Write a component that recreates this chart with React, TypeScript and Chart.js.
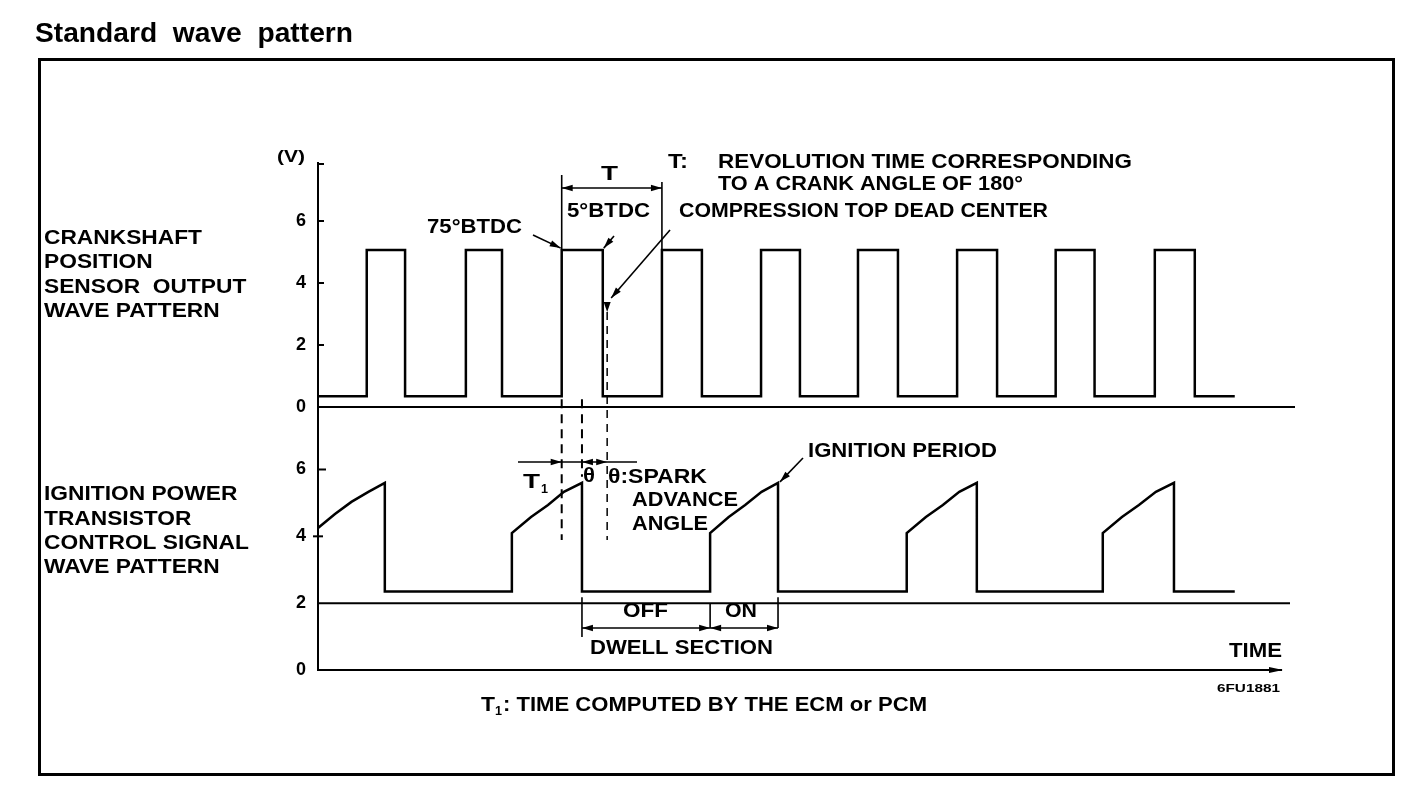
import React, { useEffect, useRef } from 'react';
import { Chart, registerables } from 'chart.js';

Chart.register(...registerables);

// ---- data (x = crank angle in degrees, y = volts) ----
const crankRiseDeg = [89, 270, 445, 628, 809, 986, 1167, 1347, 1528];
const crankFallDeg = [159, 336, 520, 701, 880, 1059, 1240, 1418, 1601];
const crankLowV = 0.35;
const crankHighV = 5.06;
const waveEndDeg = 1674;

const ignDeg = [0, 31, 61, 92, 122, 122, 354, 354, 389, 420, 449, 482, 482, 716, 716, 750, 780, 810, 840, 840, 1075, 1075, 1110, 1141, 1171, 1203, 1203, 1433, 1433, 1468, 1499, 1530, 1563, 1563, 1674];
const ignVolts = [4.25, 4.67, 5.03, 5.33, 5.6, 2.35, 2.35, 4.1, 4.58, 4.94, 5.33, 5.6, 2.35, 2.35, 4.1, 4.58, 4.94, 5.33, 5.6, 2.35, 2.35, 4.1, 4.58, 4.94, 5.33, 5.6, 2.35, 2.35, 4.1, 4.58, 4.94, 5.33, 5.6, 2.35, 2.35];

const voltTicks = [0, 2, 4, 6];
const upperMaxV = 7.87;
const lowerMaxV = 7.87;
const timeMaxDeg = 1784;
const tdcDeg = 528;
const sparkDeg = 482;
const dwellOnDeg = 716;
const dwellEndDeg = 840;

const FONT = '"Liberation Sans", Arial, Helvetica, sans-serif';
const W = 'bold';

function fitText(ctx: CanvasRenderingContext2D, s: string, x: number, y: number, w: number | null, size: number, weight = W, sx = 1) {
  ctx.save();
  ctx.font = `${weight} ${size}px ${FONT}`;
  const m = ctx.measureText(s).width;
  const k = w ? w / m : sx;
  ctx.translate(x, y);
  ctx.scale(k, 1);
  ctx.textAlign = 'left';
  ctx.textBaseline = 'alphabetic';
  ctx.fillStyle = '#000';
  ctx.fillText(s, 0, 0);
  ctx.restore();
}

function seg(ctx: CanvasRenderingContext2D, x1: number, y1: number, x2: number, y2: number, w = 2, dash: number[] = []) {
  ctx.save();
  ctx.strokeStyle = '#000';
  ctx.lineWidth = w;
  ctx.setLineDash(dash);
  ctx.beginPath();
  ctx.moveTo(x1, y1);
  ctx.lineTo(x2, y2);
  ctx.stroke();
  ctx.restore();
}

function head(ctx: CanvasRenderingContext2D, fx: number, fy: number, tx: number, ty: number, len = 11, half = 3.2) {
  const a = Math.atan2(ty - fy, tx - fx);
  ctx.save();
  ctx.fillStyle = '#000';
  ctx.beginPath();
  ctx.moveTo(tx, ty);
  ctx.lineTo(tx - len * Math.cos(a) + half * Math.sin(a), ty - len * Math.sin(a) - half * Math.cos(a));
  ctx.lineTo(tx - len * Math.cos(a) - half * Math.sin(a), ty - len * Math.sin(a) + half * Math.cos(a));
  ctx.closePath();
  ctx.fill();
  ctx.restore();
}

function arrow(ctx: CanvasRenderingContext2D, fx: number, fy: number, tx: number, ty: number, w = 1.6) {
  seg(ctx, fx, fy, tx, ty, w);
  head(ctx, fx, fy, tx, ty);
}

const diagramPlugin = {
  id: 'diagram',
  afterDraw(chart: any) {
    const ctx: CanvasRenderingContext2D = chart.ctx;
    const xs = chart.scales.x;
    const yt = chart.scales.yTop;
    const yb = chart.scales.yBot;
    const X = (d: number) => xs.getPixelForValue(d);
    const YT = (v: number) => yt.getPixelForValue(v);
    const YB = (v: number) => yb.getPixelForValue(v);
    const area = chart.chartArea;
    const ax = area.left;

    // title + frame
    fitText(ctx, 'Standard  wave  pattern', 35, 42, 318, 27, 'bold');
    ctx.save();
    ctx.strokeStyle = '#000';
    ctx.lineWidth = 3;
    ctx.strokeRect(39.5, 59.5, 1354, 715);
    ctx.restore();

    // baselines
    seg(ctx, ax, YT(0), area.right, YT(0), 2);
    seg(ctx, ax, YB(2), area.right - 5, YB(2), 2);
    seg(ctx, ax, YB(0), 1282, YB(0), 2);
    head(ctx, 1260, YB(0), 1283, YB(0), 14, 3);

    // inner tick marks
    seg(ctx, ax, YT(upperMaxV) + 1, ax + 6, YT(upperMaxV) + 1, 2);
    [2, 4, 6].forEach((v) => seg(ctx, ax, YT(v), ax + 6, YT(v), 2));
    seg(ctx, ax, YB(6), ax + 8, YB(6), 2);
    seg(ctx, ax - 5, YB(4), ax + 5, YB(4), 2);

    fitText(ctx, '(V)', 277, 162, 28, 17, 'bold');

    // left labels (one common horizontal stretch, set by the first line)
    const L = 44;
    ctx.save();
    ctx.font = `${W} 20px ${FONT}`;
    const k = 158 / ctx.measureText('CRANKSHAFT').width;
    ctx.restore();
    fitText(ctx, 'CRANKSHAFT', L, 244, null, 20, W, k);
    fitText(ctx, 'POSITION', L, 268, null, 20, W, k);
    fitText(ctx, 'SENSOR  OUTPUT', L, 293, null, 20, W, k);
    fitText(ctx, 'WAVE PATTERN', L, 317, null, 20, W, k);
    fitText(ctx, 'IGNITION POWER', L, 500, null, 20, W, k);
    fitText(ctx, 'TRANSISTOR', L, 525, null, 20, W, k);
    fitText(ctx, 'CONTROL SIGNAL', L, 549, null, 20, W, k);
    fitText(ctx, 'WAVE PATTERN', L, 573, null, 20, W, k);

    // T bracket
    const xr = X(crankRiseDeg[2]);
    const xr2 = X(crankRiseDeg[3]);
    const yHigh = YT(crankHighV);
    seg(ctx, xr, 175, xr, yHigh, 1.6);
    seg(ctx, xr2, 182, xr2, yHigh, 1.6);
    seg(ctx, xr, 188, xr2, 188, 1.6);
    head(ctx, xr + 20, 188, xr, 188);
    head(ctx, xr2 - 20, 188, xr2, 188);
    fitText(ctx, 'T', 601, 180, 17, 21);
    fitText(ctx, 'T:', 668, 168, 20, 21);
    fitText(ctx, 'REVOLUTION TIME CORRESPONDING', 718, 168, 414, 21);
    fitText(ctx, 'TO A CRANK ANGLE OF 180°', 718, 190, 305, 21);

    // BTDC labels
    fitText(ctx, '75°BTDC', 427, 233, 95, 21);
    arrow(ctx, 533, 235, xr - 1, yHigh - 2);
    const xf = X(crankFallDeg[2]);
    fitText(ctx, '5°BTDC', 567, 217, 83, 21);
    arrow(ctx, 614, 236, xf + 1, yHigh - 2);

    // compression TDC
    const xt = X(tdcDeg);
    fitText(ctx, 'COMPRESSION TOP DEAD CENTER', 679, 217, 369, 21);
    arrow(ctx, 670, 230, xt + 4, 298);
    head(ctx, xt, 300, xt, 312, 10, 3.5);
    seg(ctx, xt, 312, xt, 540, 1.5, [8, 6]);

    // dashed guide lines
    const xs1 = X(sparkDeg);
    seg(ctx, xr, YT(crankLowV) + 3, xr, 540, 2, [9, 6]);
    seg(ctx, xs1, YT(crankLowV) + 3, xs1, YB(5.6) - 6, 2, [9, 6]);

    // T1 / theta dimension
    const yd = 462;
    seg(ctx, 518, yd, 637, yd, 1.6);
    head(ctx, xr - 18, yd, xr, yd);
    head(ctx, xs1 + 18, yd, xs1, yd);
    head(ctx, xt - 16, yd, xt, yd);
    fitText(ctx, 'T', 523, 488, 17, 21);
    fitText(ctx, '1', 541, 493, 7, 13, 'bold');
    fitText(ctx, 'θ', 583, 482, 12, 21);
    fitText(ctx, 'θ:SPARK', 608, 483, 99, 21);
    fitText(ctx, 'ADVANCE', 632, 506, 106, 21);
    fitText(ctx, 'ANGLE', 632, 530, 76, 21);

    // ignition period
    fitText(ctx, 'IGNITION PERIOD', 808, 457, 189, 21);
    arrow(ctx, 803, 458, X(dwellEndDeg) + 2, YB(5.6) - 1);

    // dwell section
    const xo = X(dwellOnDeg);
    const xe = X(dwellEndDeg);
    const yl = 628;
    seg(ctx, xs1, YB(2) - 6, xs1, 637, 1.6);
    seg(ctx, xo, YB(2), xo, yl, 1.6);
    seg(ctx, xe, YB(2) - 6, xe, yl, 1.6);
    seg(ctx, xs1, yl, xe, yl, 1.6);
    head(ctx, xs1 + 20, yl, xs1, yl);
    head(ctx, xo - 20, yl, xo, yl);
    head(ctx, xo + 20, yl, xo, yl);
    head(ctx, xe - 20, yl, xe, yl);
    fitText(ctx, 'OFF', 623, 617, 45, 21);
    fitText(ctx, 'ON', 725, 617, 32, 21);
    fitText(ctx, 'DWELL SECTION', 590, 654, 183, 21);

    fitText(ctx, 'TIME', 1229, 657, 53, 21);
    fitText(ctx, '6FU1881', 1217, 692, 63, 10, 'bold');

    fitText(ctx, 'T', 481, 711, 14, 20);
    fitText(ctx, '1', 495, 715, 7, 12, 'bold');
    fitText(ctx, ': TIME COMPUTED BY THE ECM or PCM', 503, 711, 424, 20);
  },
};

export default function App() {
  const ref = useRef<HTMLCanvasElement>(null);
  useEffect(() => {
    const crankPts: { x: number; y: number }[] = [{ x: 0, y: crankLowV }];
    crankRiseDeg.forEach((r, i) => {
      crankPts.push({ x: r, y: crankLowV }, { x: r, y: crankHighV }, { x: crankFallDeg[i], y: crankHighV }, { x: crankFallDeg[i], y: crankLowV });
    });
    crankPts.push({ x: waveEndDeg, y: crankLowV });
    const ignPts = ignDeg.map((d, i) => ({ x: d, y: ignVolts[i] }));

    const tickFont = { family: FONT, size: 18, weight: 'bold' as const };
    const yCommon = (max: number, weight: number) => ({
      type: 'linear' as const,
      position: 'left' as const,
      stack: 'volts',
      stackWeight: weight,
      min: 0,
      max,
      afterBuildTicks: (s: any) => {
        s.ticks = voltTicks.map((v) => ({ value: v }));
      },
      afterFit: (s: any) => {
        s.width = 40;
      },
      grid: { display: false, drawTicks: false },
      border: { display: true, color: '#000', width: 2 },
      ticks: { color: '#000', font: tickFont, padding: 12, callback: (v: any) => String(v) },
    });

    const chart = new Chart(ref.current!, {
      type: 'line',
      data: {
        datasets: [
          { label: 'crank', data: crankPts, yAxisID: 'yTop', borderColor: '#000', borderWidth: 2.5, pointRadius: 0, tension: 0, fill: false, clip: false as any, borderJoinStyle: 'miter' },
          { label: 'ign', data: ignPts, yAxisID: 'yBot', borderColor: '#000', borderWidth: 2.5, pointRadius: 0, tension: 0, fill: false, clip: false as any, borderJoinStyle: 'miter' },
        ],
      },
      options: {
        responsive: false,
        animation: false,
        devicePixelRatio: 1,
        layout: { padding: { left: 278, right: 113, top: 163, bottom: 126 } },
        plugins: { legend: { display: false }, tooltip: { enabled: false } },
        events: [],
        scales: {
          x: { type: 'linear', min: 0, max: timeMaxDeg, display: false },
          yBot: yCommon(lowerMaxV, 263),
          yTop: yCommon(upperMaxV, 244),
        },
      },
      plugins: [diagramPlugin],
    } as any);
    return () => chart.destroy();
  }, []);
  return (
    <div style={{ position: 'absolute', left: 0, top: 0, width: 1408, height: 796, background: '#fff' }}>
      <canvas ref={ref} width={1408} height={796} style={{ display: 'block' }} />
    </div>
  );
}
